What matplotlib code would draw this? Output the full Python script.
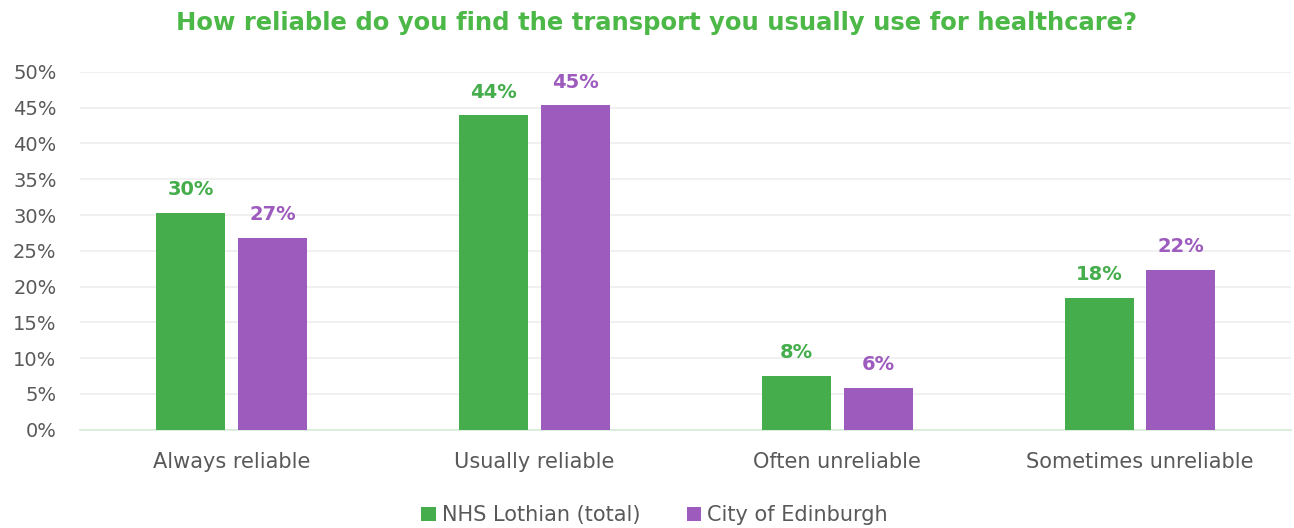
import numpy as np
import matplotlib.pyplot as plt
from matplotlib.ticker import FuncFormatter

categories = ['Always reliable', 'Usually reliable', 'Often unreliable', 'Sometimes unreliable']
nhs_lothian = [30.3, 43.9, 7.5, 18.4]
edinburgh = [26.8, 45.3, 5.9, 22.3]
series_names = ['NHS Lothian (total)', 'City of Edinburgh']

green = '#45ad4b'
purple = '#9d5bbd'
grey = '#595959'

plt.rcParams['font.family'] = ['DejaVu Sans']

fig = plt.figure(figsize=(12.94, 5.28), dpi=100)
ax = fig.add_axes([0.062, 0.186, 0.936, 0.678])

x = np.arange(len(categories))
w = 0.228
off = 0.135
b1 = ax.bar(x - off, nhs_lothian, w, color=green, label=series_names[0], zorder=3)
b2 = ax.bar(x + off, edinburgh, w, color=purple, label=series_names[1], zorder=3)

for bars, vals, c in [(b1, nhs_lothian, green), (b2, edinburgh, purple)]:
    for b, v in zip(bars, vals):
        ax.annotate('{:.0f}%'.format(v), (b.get_x() + b.get_width() / 2, v),
                    xytext=(0, 10), textcoords='offset points', ha='center', va='bottom',
                    color=c, fontsize=14, fontweight='bold')

ax.set_xlim(-0.5, 3.5)
ax.set_ylim(0, 50)
ax.set_yticks(np.arange(0, 51, 5))
ax.yaxis.set_major_formatter(FuncFormatter(lambda v, p: '{:.0f}%'.format(v)))
ax.set_xticks(x)
ax.set_xticklabels(categories)
ax.tick_params(axis='both', length=0, labelcolor=grey)
ax.tick_params(axis='y', labelsize=14, pad=17)
ax.tick_params(axis='x', labelsize=15, pad=16)
ax.grid(axis='y', color='#eeeeee', linewidth=1.2, zorder=0)
for s in ['top', 'right', 'left']:
    ax.spines[s].set_visible(False)
ax.spines['bottom'].set_color('#d5ecd6')
ax.spines['bottom'].set_linewidth(1.2)

ax.set_title('How reliable do you find the transport you usually use for healthcare?',
             color='#4cb847', fontsize=17.5, fontweight='bold', pad=30, x=0.476)

fig.legend(loc='lower center', bbox_to_anchor=(0.506, -0.03), ncol=2, frameon=False,
           fontsize=15, labelcolor=grey, handlelength=0.7, handleheight=0.7,
           handletextpad=0.3, columnspacing=2.2)

plt.savefig('out.png', dpi=100)
